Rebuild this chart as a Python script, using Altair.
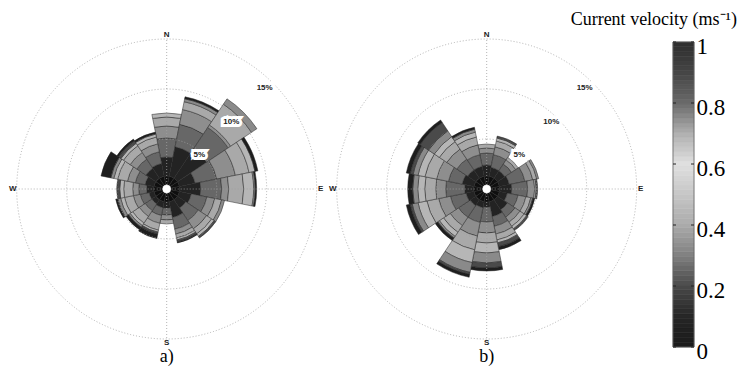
import altair as alt
import pandas as pd

# ---------------- data ----------------
directions = ["N", "NNE", "NE", "ENE", "E", "ESE", "SE", "SSE",
              "S", "SSW", "SW", "WSW", "W", "WNW", "NW", "NNW"]
speed_classes = ["0-0.1", "0.1-0.2", "0.2-0.3", "0.3-0.4", "0.4-0.5",
                 "0.5-0.6", "0.6-0.7", "0.7-0.8", "0.8-1"]

# frequency (%) per direction (rows) and speed class (columns) -- panel a)
freq_a = [
    [1.3, 1.9, 1.9, 1.2, 0.9, 0.4, 0.0, 0.0, 0.0],   # N
    [1.3, 3.0, 2.3, 1.5, 0.8, 0.0, 0.3, 0.0, 0.2],   # NNE
    [1.3, 3.5, 2.6, 0.3, 2.5, 0.0, 0.65, 0.0, 0.0],  # NE
    [1.3, 1.6, 2.2, 1.9, 1.4, 0.6, 0.0, 0.0, 0.3],   # ENE
    [1.3, 2.1, 2.1, 0.7, 1.5, 1.0, 0.15, 0.0, 0.15], # E
    [1.3, 1.2, 1.6, 0.8, 0.7, 0.0, 0.3, 0.0, 0.0],   # ESE
    [1.3, 1.0, 1.5, 1.0, 0.6, 0.3, 0.0, 0.2, 0.0],   # SE
    [1.3, 1.6, 1.2, 0.5, 0.4, 0.2, 0.0, 0.2, 0.1],   # SSE
    [1.3, 0.6, 0.7, 0.5, 0.4, 0.0, 0.0, 0.0, 0.0],   # S
    [1.3, 0.6, 0.8, 0.8, 0.7, 0.2, 0.0, 0.2, 0.45],  # SSW
    [1.3, 0.5, 0.8, 0.7, 0.8, 0.3, 0.2, 0.0, 0.3],   # SW
    [1.3, 0.5, 0.9, 0.7, 0.9, 0.4, 0.3, 0.0, 0.2],   # WSW
    [1.3, 0.7, 0.8, 0.6, 0.9, 0.4, 0.0, 0.3, 0.0],   # W
    [1.3, 0.9, 1.0, 0.8, 1.0, 0.4, 0.3, 0.0, 1.0],   # WNW
    [1.3, 1.2, 1.1, 0.8, 0.8, 0.3, 0.0, 0.3, 0.2],   # NW
    [1.3, 1.3, 1.2, 0.8, 0.7, 0.3, 0.0, 0.0, 0.2],   # NNW
]
# panel b)
freq_b = [
    [1.3, 1.1, 1.2, 0.5, 0.4, 0.0, 0.0, 0.0, 0.0],   # N
    [1.3, 0.9, 1.3, 0.8, 0.6, 0.3, 0.0, 0.2, 0.0],   # NNE
    [1.3, 0.9, 0.8, 0.5, 0.3, 0.0, 0.0, 0.0, 0.0],   # NE
    [1.3, 1.0, 1.6, 0.8, 0.4, 0.0, 0.2, 0.0, 0.0],   # ENE
    [1.3, 1.2, 1.6, 0.7, 0.0, 0.15, 0.0, 0.15, 0.0], # E
    [1.3, 0.8, 1.1, 0.8, 0.5, 0.0, 0.2, 0.0, 0.2],   # ESE
    [1.3, 1.2, 0.9, 0.6, 0.5, 0.3, 0.0, 0.2, 0.0],   # SE
    [1.3, 1.5, 1.0, 0.8, 0.6, 0.3, 0.0, 0.4, 0.3],   # SSE
    [1.3, 0.5, 1.5, 1.1, 1.0, 1.0, 1.0, 0.5, 0.3],   # S
    [1.3, 0.6, 1.5, 1.4, 1.4, 1.3, 1.0, 0.2, 0.3],   # SSW
    [1.3, 0.7, 1.4, 1.0, 0.8, 0.5, 0.2, 0.0, 0.3],   # SW
    [1.3, 0.8, 1.6, 1.2, 1.2, 0.9, 0.6, 0.2, 0.4],   # WSW
    [1.3, 0.9, 1.9, 1.0, 1.1, 0.7, 0.5, 0.0, 0.5],   # W
    [1.3, 1.2, 1.4, 1.2, 1.2, 0.7, 0.5, 0.3, 0.4],   # WNW
    [1.3, 1.0, 1.3, 1.2, 0.9, 0.6, 0.7, 1.0, 0.3],   # NW
    [1.3, 1.0, 1.2, 1.0, 0.8, 0.5, 0.3, 0.0, 0.2],   # NNW
]

panels = [0, 1]
panel_text = ["a)", "b)"]
ring_levels = [5, 10, 15]
ring_labels = ["5%", "10%", "15%"]
ring_label_radius = [4.7, 9.3, 14.1]
compass = ["N", "E", "S", "W"]
compass_deg = [0, 90, 180, 270]

class_grays = ["#0f0f0f", "#232323", "#676767", "#8e8e8e", "#a9a9a9",
               "#b6b6b6", "#8a8a8a", "#4a4a4a", "#1e1e1e"]

cbar_stops = [0, 0.1, 0.2, 0.3, 0.4, 0.5, 0.6, 0.7, 0.8, 0.9, 1.0]
cbar_grays = ["#1a1a1a", "#262626", "#4a4a4a", "#808080", "#ababab", "#c6c6c6",
              "#e0e0e0", "#b0b0b0", "#6a6a6a", "#454545", "#2e2e2e"]
cbar_ticks = [0, 0.2, 0.4, 0.6, 0.8, 1.0]
cbar_steps = 64

# ---------------- tables ----------------
rows = []
for panel, freq in zip(panels, [freq_a, freq_b]):
    for i, d in enumerate(directions):
        inner = 0.0
        for k, cls in enumerate(speed_classes):
            f = freq[i][k]
            if f > 0:
                rows.append(dict(panel=panel, dir=d, cls=cls,
                                 t0=i * 22.5 - 11.25, t1=i * 22.5 + 11.25,
                                 r0=inner, r1=inner + f))
                inner += f
bars_df = pd.DataFrame(rows)

rings_df = pd.DataFrame([dict(panel=p, r=r, t0=0, t1=360) for p in panels for r in ring_levels])
hole_df = pd.DataFrame([dict(panel=p, r=0.4, t0=0, t1=360) for p in panels])
ringlab_df = pd.DataFrame([dict(panel=p, txt=t, r=r, t=44)
                           for p in panels for t, r in zip(ring_labels, ring_label_radius)])
compass_df = pd.DataFrame([dict(panel=p, txt=c, t=a, r=15.4)
                           for p in panels for c, a in zip(compass, compass_deg)])
panel_df = pd.DataFrame(dict(panel=panels, txt=panel_text))
cbar_df = pd.DataFrame(dict(lo=[k / cbar_steps for k in range(cbar_steps)],
                            hi=[(k + 1) / cbar_steps for k in range(cbar_steps)],
                            mid=[(k + 0.5) / cbar_steps for k in range(cbar_steps)]))
cbar_frame_df = pd.DataFrame(dict(lo=[0.0], hi=[1.0]))
cbar_tick_df = pd.DataFrame(dict(v=cbar_ticks))

# ---------------- scales ----------------
PX = alt.Scale(domain=[0, 1], range=[158.7, 478.7])
CX = alt.X("panel:Q", scale=PX, axis=None, stack=False)
CY = alt.value(181)
TH = alt.Scale(domain=[0, 360], range=[0, 6.283185307179586])
RS = alt.Scale(type="linear", domain=[0, 15], range=[0, 150])
CB_Y = alt.Scale(domain=[0, 1], range=[339, 34])
CB_C = alt.Scale(domain=cbar_stops, range=cbar_grays)

bars = alt.Chart(bars_df).mark_arc(stroke="#262626", strokeWidth=0.5).encode(
    x=CX, y=CY,
    theta=alt.Theta("t0:Q", scale=TH, stack=False), theta2="t1:Q",
    radius=alt.Radius("r1:Q", scale=RS, stack=False), radius2="r0:Q",
    color=alt.Color("cls:N", scale=alt.Scale(domain=speed_classes, range=class_grays), legend=None),
)

rings = alt.Chart(rings_df).mark_arc(filled=False, stroke="#a0a0a0", strokeWidth=0.8,
                                     strokeDash=[1, 2]).encode(
    x=CX, y=CY,
    theta=alt.Theta("t0:Q", scale=TH, stack=False), theta2="t1:Q",
    radius=alt.Radius("r:Q", scale=RS, stack=False),
)

lines_df = pd.DataFrame(dict(panel=panels))
vlines = alt.Chart(lines_df).mark_rule(
    stroke="#a0a0a0", strokeWidth=0.8, strokeDash=[1, 2]).encode(
    x=CX, y=alt.value(32), y2=alt.value(330))
hlines = alt.Chart(lines_df).mark_rule(
    stroke="#a0a0a0", strokeWidth=0.8, strokeDash=[1, 2], xOffset=-148, x2Offset=148).encode(
    x=CX, x2="panel:Q", y=CY)

hole = alt.Chart(hole_df).mark_arc(fill="white", stroke="white", strokeWidth=0.5).encode(
    x=CX, y=CY,
    theta=alt.Theta("t0:Q", scale=TH, stack=False), theta2="t1:Q",
    radius=alt.Radius("r:Q", scale=RS, stack=False),
)

compass_txt = alt.Chart(compass_df).mark_text(
    font="Liberation Sans", fontSize=8, fontWeight="bold", color="#222222",
    align="center", baseline="middle").encode(
    x=CX, y=CY,
    theta=alt.Theta("t:Q", scale=TH, stack=False),
    radius=alt.Radius("r:Q", scale=RS, stack=False),
    text="txt:N")

ringlab_halo = alt.Chart(ringlab_df).mark_text(
    font="Liberation Sans", fontSize=8, fontWeight="bold", color="white",
    stroke="white", strokeWidth=6, align="center", baseline="middle").encode(
    x=CX, y=CY,
    theta=alt.Theta("t:Q", scale=TH, stack=False),
    radius=alt.Radius("r:Q", scale=RS, stack=False),
    text="txt:N")
ringlab = alt.Chart(ringlab_df).mark_text(
    font="Liberation Sans", fontSize=8, fontWeight="bold", color="#222222",
    align="center", baseline="middle").encode(
    x=CX, y=CY,
    theta=alt.Theta("t:Q", scale=TH, stack=False),
    radius=alt.Radius("r:Q", scale=RS, stack=False),
    text="txt:N")

panel_lab = alt.Chart(panel_df).mark_text(
    font="Liberation Serif", fontSize=18, color="black", baseline="middle").encode(
    x=CX, y=alt.value(349), text="txt:N")

cbar = alt.Chart(cbar_df).mark_rect(strokeWidth=0.6).encode(
    x=alt.value(665), x2=alt.value(686),
    y=alt.Y("lo:Q", scale=CB_Y,
            axis=alt.Axis(orient="right", offset=-45, values=cbar_ticks, format="~g",
                          ticks=False, domain=False, grid=False, title=None,
                          labelFont="Liberation Serif", labelFontSize=23,
                          labelColor="black", labelPadding=2, labelOffset=4)),
    y2="hi:Q",
    color=alt.Color("mid:Q", scale=CB_C, legend=None),
    stroke=alt.Stroke("mid:Q", scale=CB_C, legend=None),
)
cbar_frame = alt.Chart(cbar_frame_df).mark_rect(fill="transparent", stroke="#666666",
                                                strokeWidth=0.8).encode(
    x=alt.value(665), x2=alt.value(686), y=alt.Y("lo:Q", scale=CB_Y), y2="hi:Q")
cbar_tick_l = alt.Chart(cbar_tick_df).mark_rule(color="#222222").encode(
    x=alt.value(665), x2=alt.value(668), y=alt.Y("v:Q", scale=CB_Y))
cbar_tick_r = alt.Chart(cbar_tick_df).mark_rule(color="#222222").encode(
    x=alt.value(683), x2=alt.value(686), y=alt.Y("v:Q", scale=CB_Y))

cbar_title = alt.Chart(pd.DataFrame(dict(txt=["Current velocity (ms\u207b\u00b9)"]))).mark_text(
    font="Liberation Serif", fontSize=18, color="black", align="right", baseline="middle").encode(
    x=alt.value(729), y=alt.value(12), text="txt:N")

chart = alt.layer(
    bars, rings, vlines, hlines, hole, compass_txt, ringlab_halo, ringlab, panel_lab,
    cbar, cbar_frame, cbar_tick_l, cbar_tick_r, cbar_title,
).resolve_scale(color="independent", stroke="independent").properties(
    width=731, height=359, padding=0, autosize=alt.AutoSizeParams(type="none"),
).configure_view(stroke=None)

chart.save("out.html", embed_options={"renderer": "svg", "actions": False})
